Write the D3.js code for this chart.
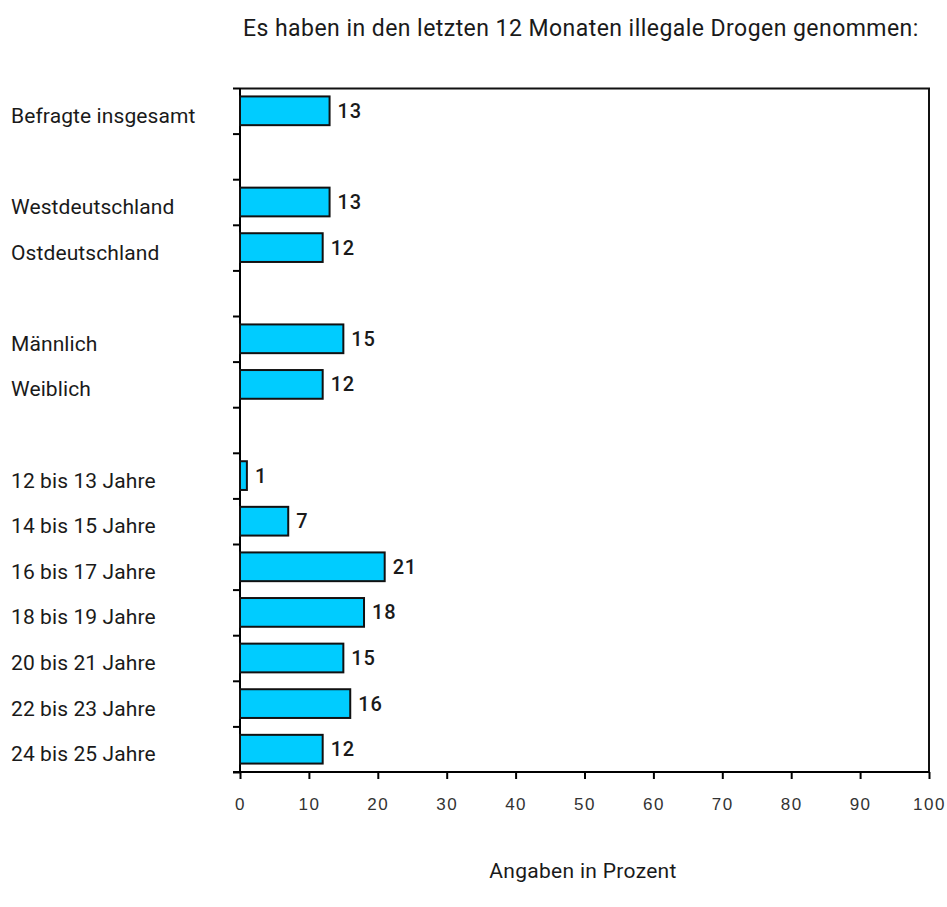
<!DOCTYPE html>
<html>
<head>
<meta charset="utf-8">
<script src="https://cdn.jsdelivr.net/npm/d3@7"></script>
<style>
  body { margin: 0; background: #fff; }
  text { font-family: Roboto, "Open Sans", sans-serif; fill: #1a1a1a; }
</style>
</head>
<body>
<svg id="chart"></svg>
<script>
const width = 947
const height = 907

// empty strings are the gaps between groups
const categories = [
  "Befragte insgesamt", "",
  "Westdeutschland", "Ostdeutschland", "",
  "Männlich", "Weiblich", "",
  "12 bis 13 Jahre", "14 bis 15 Jahre", "16 bis 17 Jahre", "18 bis 19 Jahre",
  "20 bis 21 Jahre", "22 bis 23 Jahre", "24 bis 25 Jahre"
]
const values = [13, null, 13, 12, null, 15, 12, null, 1, 7, 21, 18, 15, 16, 12]
const xTicks = [0, 10, 20, 30, 40, 50, 60, 70, 80, 90, 100]
const title = "Es haben in den letzten 12 Monaten illegale Drogen genommen:"
const xTitle = "Angaben in Prozent"

const margin = { top: 88, right: 18, bottom: 135, left: 240 }
const innerW = width - margin.left - margin.right
const innerH = height - margin.top - margin.bottom

const svg = d3.select("#chart")
    .attr("width", width)
    .attr("height", height)

const g = svg.append("g")
    .attr("transform", `translate(${margin.left},${margin.top})`)

const x = d3.scaleLinear().domain([0, 100]).range([0, innerW])
const y = d3.scaleBand()
    .domain(d3.range(categories.length))
    .range([0, innerH])
    .paddingInner(0.37)
    .paddingOuter(0.185)

// frame: top and right edges
g.append("path")
    .attr("d", `M0,0.5H${innerW}V${innerH}`)
    .style("fill", "none")
    .style("stroke", "#111")
    .style("stroke-width", 2)

// left axis: ticks at band boundaries, no labels
g.append("g")
    .call(d3.axisLeft(d3.scaleLinear().domain([0, categories.length]).range([0, innerH]))
        .tickValues(d3.range(categories.length + 1))
        .tickSize(7)
        .tickFormat(""))
    .call(a => a.select(".domain").attr("stroke-width", 2).attr("d", `M0,0V${innerH}`))
    .call(a => a.selectAll(".tick line").attr("stroke-width", 2))

const xAxis = g.append("g")
    .attr("transform", `translate(0,${innerH})`)
    .call(d3.axisBottom(x).tickValues(xTicks).tickSize(7).tickPadding(19))
xAxis.select(".domain").attr("stroke-width", 2).attr("d", `M-7,0H${innerW}`)
xAxis.selectAll(".tick line").attr("stroke-width", 2)
xAxis.selectAll(".tick text")
    .style("font-size", "17px")
    .style("letter-spacing", "1.5px")
    .style("fill", "#333")
    .style("font-family", "Arial, 'Liberation Sans', sans-serif")

// category labels
svg.append("g")
    .selectAll("text")
    .data(categories)
    .join("text")
    .attr("x", 11)
    .attr("y", (d, i) => margin.top + y(i) + y.bandwidth() / 2 + 12)
    .style("font-size", "21px")
    .style("letter-spacing", "0.1px")
    .text(d => d)

const rows = categories.map((c, i) => ({ c, i, v: values[i] })).filter(d => d.v != null)

g.selectAll("rect")
    .data(rows)
    .join("rect")
    .attr("x", 0)
    .attr("y", d => y(d.i))
    .attr("width", d => x(d.v))
    .attr("height", y.bandwidth())
    .style("fill", "#00ccff")
    .style("stroke", "#111")
    .style("stroke-width", 2)

g.selectAll(".val")
    .data(rows)
    .join("text")
    .attr("class", "val")
    .attr("x", d => x(d.v) + 8)
    .attr("y", d => y(d.i) + y.bandwidth() / 2 + 7)
    .style("font-size", "20px")
    .style("font-weight", "500")
    .style("letter-spacing", "0.8px")
    .text(d => d.v)

svg.append("text")
    .attr("x", 243)
    .attr("y", 36)
    .style("font-size", "23px")
    .style("letter-spacing", "0.45px")
    .text(title)

svg.append("text")
    .attr("x", 583)
    .attr("y", 878)
    .attr("text-anchor", "middle")
    .style("font-size", "21px")
    .style("letter-spacing", "0.3px")
    .text(xTitle)
</script>
</body>
</html>
